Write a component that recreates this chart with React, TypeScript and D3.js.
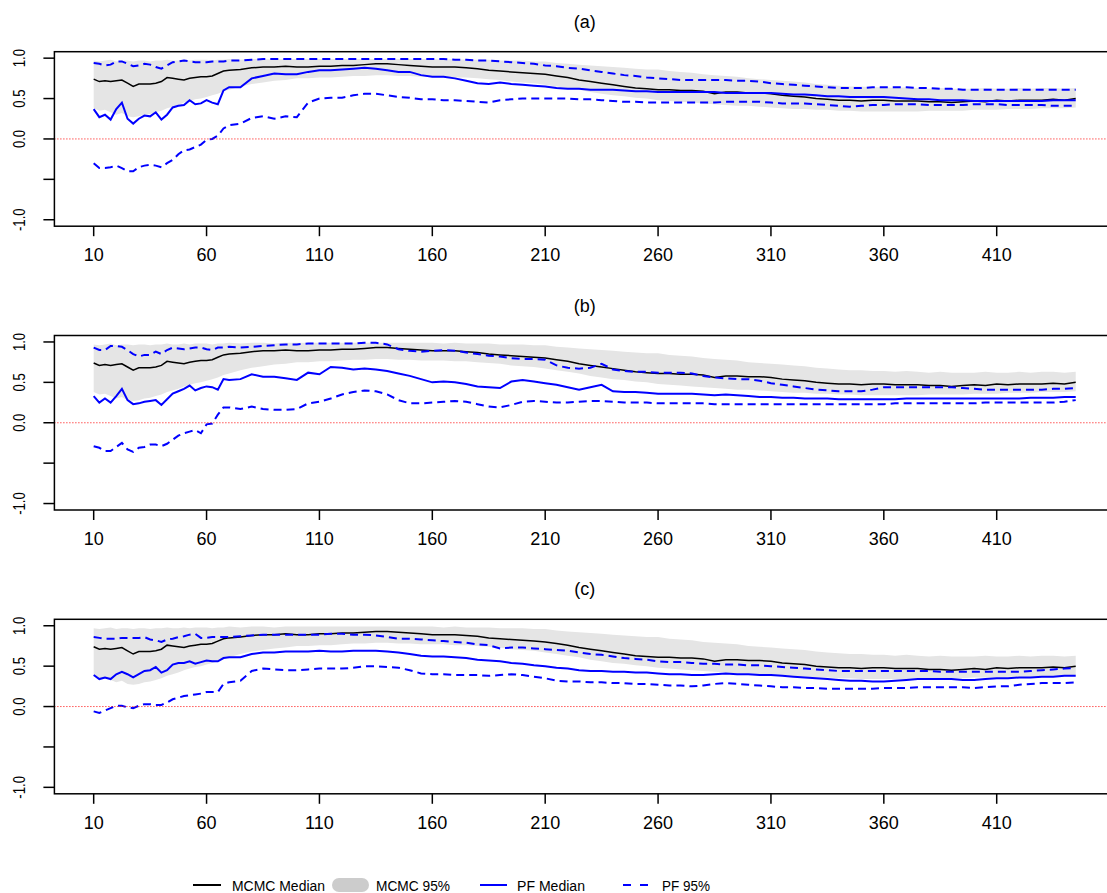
import React, { useEffect, useRef } from "react";
import * as d3 from "d3";

// time points (denser at the start where the PF curves jump around)
const T = [
  10, 12.5, 15, 17.5, 20, 22.5, 25, 27.5, 30, 32.5,
  35, 37.5, 40, 42.5, 45, 47.5, 50, 52.5, 55, 57.5,
  60, 62.5, 65, 67.5, 70,
  75, 80, 85, 90, 95, 100, 105, 110, 115, 120,
  125, 130, 135, 140, 145, 150, 155, 160, 165, 170,
  175, 180, 185, 190, 195, 200, 205, 210, 215, 220,
  225, 230, 235, 240, 245, 250, 255, 260, 265, 270,
  275, 280, 285, 290, 295, 300, 305, 310, 315, 320,
  325, 330, 335, 340, 345, 350, 355, 360, 365, 370,
  375, 380, 385, 390, 395, 400, 405, 410, 415, 420,
  425, 430, 435, 440, 445,
];

const xTicks = [10, 60, 110, 160, 210, 260, 310, 360, 410];
const yTicks = [-1, -0.5, 0, 0.5, 1];
const yTickLabels = ["-1.0", "", "0.0", "0.5", "1.0"];
const panelTitles = ["(a)", "(b)", "(c)"];
const legendLabels = ["MCMC Median", "MCMC 95%", "PF Median", "PF 95%"];

// MCMC (same in every panel)
const mcmcMedian = [
  0.74, 0.71, 0.72, 0.71, 0.72, 0.73, 0.69, 0.65, 0.68, 0.68,
  0.68, 0.69, 0.71, 0.76, 0.75, 0.74, 0.73, 0.75, 0.76, 0.77,
  0.77, 0.78, 0.81, 0.84, 0.85,
  0.86, 0.88, 0.89, 0.89, 0.90, 0.89, 0.89, 0.90, 0.90, 0.91,
  0.91, 0.92, 0.93, 0.93, 0.92, 0.91, 0.90, 0.89, 0.89, 0.89,
  0.88, 0.87, 0.85, 0.84, 0.83, 0.82, 0.81, 0.80, 0.78, 0.76,
  0.73, 0.71, 0.69, 0.67, 0.65, 0.63, 0.62, 0.61, 0.61, 0.60,
  0.60, 0.59, 0.56, 0.58, 0.58, 0.57, 0.57, 0.56, 0.54, 0.53,
  0.52, 0.50, 0.49, 0.48, 0.48, 0.47, 0.48, 0.48, 0.47, 0.47,
  0.47, 0.46, 0.46, 0.45, 0.46, 0.47, 0.46, 0.48, 0.47, 0.48,
  0.48, 0.48, 0.49, 0.48, 0.50,
];
const mcmcUpper = [
  0.97, 0.96, 0.97, 0.98, 0.96, 0.97, 0.97, 0.96, 0.97, 0.97,
  0.96, 0.97, 0.97, 0.98, 0.97, 0.97, 0.98, 0.97, 0.98, 0.98,
  0.98, 0.97, 0.98, 0.98, 0.99,
  0.98, 0.99, 0.99, 0.98, 0.99, 0.99, 0.99, 0.99, 0.99, 0.99,
  0.99, 0.99, 0.99, 0.99, 0.99, 0.99, 0.99, 0.99, 0.98, 0.99,
  0.98, 0.98, 0.98, 0.97, 0.97, 0.97, 0.96, 0.96, 0.94, 0.93,
  0.92, 0.91, 0.90, 0.89, 0.88, 0.87, 0.86, 0.86, 0.84, 0.83,
  0.82, 0.80, 0.79, 0.78, 0.77, 0.75, 0.74, 0.73, 0.72, 0.71,
  0.70, 0.68, 0.67, 0.66, 0.65, 0.65, 0.64, 0.64, 0.63, 0.64,
  0.63, 0.62, 0.63, 0.62, 0.62, 0.62, 0.63, 0.62, 0.62, 0.63,
  0.62, 0.63, 0.63, 0.62, 0.63,
];
const mcmcLower = [
  0.38, 0.35, 0.36, 0.33, 0.30, 0.32, 0.28, 0.27, 0.28, 0.30,
  0.31, 0.33, 0.35, 0.38, 0.40, 0.42, 0.45, 0.47, 0.49, 0.50,
  0.52, 0.54, 0.56, 0.59, 0.61,
  0.65, 0.68, 0.70, 0.72, 0.73, 0.75, 0.75, 0.76, 0.76, 0.77,
  0.78, 0.78, 0.79, 0.79, 0.78, 0.78, 0.77, 0.77, 0.77, 0.76,
  0.76, 0.75, 0.74, 0.73, 0.71, 0.70, 0.69, 0.67, 0.65, 0.63,
  0.61, 0.58, 0.56, 0.54, 0.53, 0.51, 0.50, 0.48, 0.47, 0.46,
  0.45, 0.44, 0.43, 0.42, 0.41, 0.41, 0.40, 0.39, 0.38, 0.37,
  0.37, 0.36, 0.36, 0.35, 0.35, 0.34, 0.34, 0.34, 0.34, 0.34,
  0.34, 0.35, 0.35, 0.35, 0.35, 0.36, 0.36, 0.36, 0.37, 0.37,
  0.37, 0.38, 0.38, 0.38, 0.39,
];

// PF, panel (a)
const pfMedianA = [
  0.37, 0.27, 0.30, 0.24, 0.37, 0.45, 0.25, 0.19, 0.25, 0.29,
  0.28, 0.33, 0.24, 0.30, 0.39, 0.41, 0.42, 0.48, 0.43, 0.44,
  0.48, 0.45, 0.43, 0.60, 0.64,
  0.64, 0.75, 0.78, 0.81, 0.80, 0.80, 0.83, 0.85, 0.85, 0.86,
  0.87, 0.88, 0.87, 0.85, 0.83, 0.83, 0.79, 0.77, 0.77, 0.75,
  0.72, 0.69, 0.68, 0.70, 0.68, 0.67, 0.66, 0.65, 0.63, 0.62,
  0.62, 0.61, 0.61, 0.61, 0.60, 0.59, 0.59, 0.58, 0.58, 0.58,
  0.58, 0.58, 0.58, 0.57, 0.57, 0.57, 0.57, 0.57, 0.56, 0.55,
  0.55, 0.54, 0.53, 0.53, 0.52, 0.52, 0.52, 0.52, 0.51, 0.50,
  0.49, 0.49, 0.48, 0.48, 0.48, 0.47, 0.47, 0.47, 0.47, 0.47,
  0.47, 0.47, 0.48, 0.48, 0.48,
];
const pfLowerA = [
  -0.30, -0.36, -0.36, -0.35, -0.33, -0.36, -0.40, -0.40, -0.35, -0.33,
  -0.32, -0.33, -0.35, -0.30, -0.26, -0.19, -0.14, -0.13, -0.10, -0.07,
  -0.01, 0.00, 0.04, 0.13, 0.17,
  0.19, 0.26, 0.28, 0.25, 0.28, 0.27, 0.45, 0.50, 0.51, 0.51,
  0.54, 0.56, 0.56, 0.54, 0.52, 0.51, 0.49, 0.49, 0.48, 0.48,
  0.47, 0.46, 0.45, 0.48, 0.49, 0.50, 0.50, 0.50, 0.50, 0.50,
  0.49, 0.49, 0.48, 0.47, 0.46, 0.46, 0.45, 0.45, 0.45, 0.45,
  0.45, 0.45, 0.45, 0.46, 0.46, 0.46, 0.46, 0.45, 0.44, 0.44,
  0.44, 0.43, 0.42, 0.41, 0.40, 0.41, 0.42, 0.42, 0.43, 0.43,
  0.43, 0.42, 0.42, 0.42, 0.42, 0.43, 0.43, 0.43, 0.42, 0.42,
  0.42, 0.42, 0.41, 0.41, 0.41,
];
const pfUpperA = [
  0.94, 0.93, 0.91, 0.92, 0.96, 0.96, 0.93, 0.90, 0.91, 0.93,
  0.92, 0.89, 0.87, 0.91, 0.95, 0.96, 0.97, 0.96, 0.95, 0.95,
  0.95, 0.96, 0.96, 0.96, 0.97,
  0.97, 0.98, 0.99, 0.99, 0.99, 0.99, 0.99, 0.99, 0.99, 0.99,
  0.99, 0.99, 0.99, 0.99, 0.99, 0.99, 0.99, 0.99, 0.99, 0.98,
  0.98, 0.97, 0.97, 0.96, 0.95, 0.94, 0.93, 0.91, 0.90, 0.88,
  0.87, 0.85, 0.83, 0.81, 0.79, 0.78, 0.76, 0.75, 0.74, 0.73,
  0.73, 0.73, 0.73, 0.73, 0.72, 0.72, 0.71, 0.69, 0.68, 0.67,
  0.66, 0.65, 0.64, 0.63, 0.63, 0.63, 0.64, 0.64, 0.64, 0.64,
  0.63, 0.63, 0.62, 0.62, 0.61, 0.61, 0.61, 0.61, 0.61, 0.61,
  0.61, 0.61, 0.61, 0.61, 0.61,
];

// PF, panel (b)
const pfMedianB = [
  0.33, 0.25, 0.30, 0.25, 0.33, 0.42, 0.28, 0.23, 0.24, 0.26,
  0.27, 0.28, 0.22, 0.29, 0.36, 0.39, 0.42, 0.46, 0.40, 0.43,
  0.45, 0.44, 0.41, 0.54, 0.53,
  0.54, 0.60, 0.57, 0.57, 0.55, 0.53, 0.62, 0.60, 0.69, 0.68,
  0.66, 0.67, 0.66, 0.64, 0.61, 0.58, 0.54, 0.50, 0.51, 0.50,
  0.48, 0.45, 0.44, 0.43, 0.51, 0.53, 0.51, 0.49, 0.47, 0.44,
  0.41, 0.44, 0.47, 0.39, 0.38, 0.38, 0.37, 0.36, 0.36, 0.36,
  0.36, 0.35, 0.34, 0.35, 0.34, 0.33, 0.32, 0.32, 0.31, 0.31,
  0.30, 0.30, 0.30, 0.29, 0.29, 0.29, 0.29, 0.29, 0.29, 0.30,
  0.30, 0.30, 0.30, 0.30, 0.30, 0.30, 0.30, 0.30, 0.30, 0.30,
  0.31, 0.31, 0.31, 0.32, 0.32,
];
const pfLowerB = [
  -0.29, -0.31, -0.35, -0.35, -0.30, -0.25, -0.33, -0.36, -0.31, -0.30,
  -0.27, -0.27, -0.29, -0.26, -0.21, -0.16, -0.13, -0.11, -0.09, -0.13,
  -0.02, -0.01, 0.10, 0.19, 0.19,
  0.17, 0.20, 0.17, 0.16, 0.16, 0.17, 0.24, 0.26, 0.30, 0.35,
  0.38, 0.40, 0.39, 0.35, 0.28, 0.24, 0.24, 0.25, 0.26, 0.27,
  0.26, 0.23, 0.20, 0.19, 0.22, 0.26, 0.27, 0.26, 0.25, 0.25,
  0.26, 0.27, 0.27, 0.26, 0.25, 0.25, 0.25, 0.24, 0.24, 0.24,
  0.24, 0.24, 0.23, 0.23, 0.23, 0.23, 0.23, 0.23, 0.23, 0.23,
  0.23, 0.23, 0.23, 0.23, 0.23, 0.23, 0.23, 0.23, 0.24, 0.24,
  0.24, 0.24, 0.24, 0.24, 0.24, 0.24, 0.25, 0.25, 0.25, 0.25,
  0.25, 0.25, 0.25, 0.26, 0.28,
];
const pfUpperB = [
  0.93, 0.90, 0.90, 0.95, 0.95, 0.94, 0.90, 0.85, 0.82, 0.84,
  0.84, 0.88, 0.85, 0.90, 0.93, 0.92, 0.91, 0.92, 0.93, 0.93,
  0.91, 0.90, 0.93, 0.93, 0.94,
  0.93, 0.94, 0.95, 0.96, 0.97, 0.97, 0.98, 0.98, 0.98, 0.98,
  0.98, 0.99, 0.99, 0.97, 0.91, 0.89, 0.88, 0.89, 0.90, 0.89,
  0.87, 0.85, 0.83, 0.82, 0.80, 0.79, 0.79, 0.78, 0.71, 0.68,
  0.67, 0.68, 0.73, 0.66, 0.64, 0.63, 0.63, 0.62, 0.62, 0.62,
  0.61, 0.58, 0.56, 0.55, 0.54, 0.54, 0.52, 0.49, 0.47, 0.45,
  0.43, 0.41, 0.40, 0.39, 0.39, 0.39, 0.41, 0.44, 0.44, 0.44,
  0.44, 0.44, 0.44, 0.44, 0.43, 0.42, 0.41, 0.41, 0.41, 0.41,
  0.41, 0.41, 0.42, 0.42, 0.43,
];

// PF, panel (c)
const pfMedianC = [
  0.39, 0.34, 0.36, 0.34, 0.40, 0.43, 0.40, 0.36, 0.40, 0.44,
  0.45, 0.49, 0.42, 0.45, 0.52, 0.54, 0.54, 0.56, 0.53, 0.55,
  0.57, 0.56, 0.56, 0.60, 0.61,
  0.61, 0.65, 0.67, 0.67, 0.68, 0.68, 0.68, 0.69, 0.68, 0.68,
  0.69, 0.69, 0.69, 0.68, 0.67, 0.65, 0.63, 0.62, 0.62, 0.61,
  0.60, 0.58, 0.57, 0.56, 0.54, 0.53, 0.51, 0.50, 0.48, 0.47,
  0.45, 0.44, 0.44, 0.43, 0.43, 0.42, 0.42, 0.41, 0.40, 0.40,
  0.39, 0.39, 0.40, 0.41, 0.40, 0.40, 0.39, 0.39, 0.38, 0.37,
  0.36, 0.35, 0.34, 0.33, 0.32, 0.32, 0.31, 0.31, 0.32, 0.33,
  0.34, 0.34, 0.34, 0.34, 0.33, 0.33, 0.34, 0.35, 0.35, 0.36,
  0.36, 0.37, 0.37, 0.38, 0.38,
];
const pfLowerC = [
  -0.06, -0.08, -0.05, -0.02, 0.01, 0.01, -0.01, -0.02, 0.01, 0.03,
  0.03, 0.02, 0.02, 0.05, 0.09, 0.11, 0.13, 0.14, 0.15, 0.16,
  0.18, 0.18, 0.18, 0.28, 0.30,
  0.32, 0.44, 0.47, 0.46, 0.45, 0.45, 0.46, 0.47, 0.47, 0.47,
  0.48, 0.50, 0.50, 0.49, 0.48, 0.45, 0.41, 0.40, 0.40, 0.39,
  0.39, 0.39, 0.38, 0.39, 0.40, 0.39, 0.37, 0.35, 0.32, 0.31,
  0.31, 0.30, 0.30, 0.29, 0.29, 0.28, 0.28, 0.27, 0.26, 0.26,
  0.25, 0.26, 0.28, 0.29, 0.28, 0.27, 0.26, 0.25, 0.24, 0.24,
  0.23, 0.23, 0.22, 0.22, 0.22, 0.22, 0.22, 0.23, 0.23, 0.23,
  0.24, 0.24, 0.24, 0.24, 0.24, 0.23, 0.24, 0.25, 0.25, 0.27,
  0.28, 0.29, 0.29, 0.29, 0.30,
];
const pfUpperC = [
  0.86, 0.85, 0.84, 0.84, 0.84, 0.85, 0.85, 0.85, 0.85, 0.86,
  0.83, 0.82, 0.80, 0.83, 0.84, 0.86, 0.87, 0.89, 0.90, 0.85,
  0.85, 0.86, 0.86, 0.86, 0.86,
  0.87, 0.88, 0.89, 0.89, 0.89, 0.89, 0.89, 0.89, 0.90, 0.90,
  0.89, 0.89, 0.88, 0.86, 0.84, 0.84, 0.83, 0.82, 0.81, 0.80,
  0.79, 0.77, 0.76, 0.72, 0.73, 0.73, 0.72, 0.71, 0.70, 0.69,
  0.67, 0.65, 0.64, 0.62, 0.60, 0.59, 0.58, 0.56, 0.55, 0.55,
  0.54, 0.53, 0.53, 0.52, 0.52, 0.51, 0.51, 0.50, 0.49, 0.48,
  0.47, 0.46, 0.45, 0.44, 0.44, 0.44, 0.44, 0.44, 0.44, 0.44,
  0.44, 0.44, 0.43, 0.43, 0.43, 0.43, 0.43, 0.43, 0.43, 0.43,
  0.44, 0.45, 0.46, 0.47, 0.48,
];

const pfMedians = [pfMedianA, pfMedianB, pfMedianC];
const pfLowers = [pfLowerA, pfLowerB, pfLowerC];
const pfUppers = [pfUpperA, pfUpperB, pfUpperC];

const FONT = "'Liberation Sans', Arial, Helvetica, sans-serif";

const App = () => {
  const svgRef = useRef(null);

  useEffect(() => {
    document.body.style.margin = "0";
    const width = 1107;
    const height = 893;
    const svg = d3
      .select(svgRef.current)
      .attr("width", width)
      .attr("height", height)
      .style("display", "block")
      .style("background", "white");

    svg.selectAll("*").remove();

    const left = 54.4;
    const right = 1115;
    const panelH = 174.5;
    const tops = [51.7, 335.5, 619.3];

    // R style 4% padding around 10..445 and -1..1
    const x = d3.scaleLinear().domain([-7.4, 462.4]).range([left, right]);

    tops.forEach((top, p) => {
      const y = d3
        .scaleLinear()
        .domain([-1.08, 1.08])
        .range([top + panelH, top]);
      const g = svg.append("g");

      const band = d3
        .area()
        .x((_, i) => x(T[i]))
        .y0((_, i) => y(mcmcLower[i]))
        .y1((_, i) => y(mcmcUpper[i]));
      g.append("path")
        .datum(T)
        .attr("d", band)
        .attr("fill", "#e5e5e5")
        .attr("stroke", "none");

      const line = d3
        .line()
        .x((_, i) => x(T[i]))
        .y((d) => y(d));

      g.append("path")
        .datum(mcmcMedian)
        .attr("d", line)
        .attr("fill", "none")
        .attr("stroke", "black")
        .attr("stroke-width", 1.5);

      g.append("path")
        .datum(pfMedians[p])
        .attr("d", line)
        .attr("fill", "none")
        .attr("stroke", "#0000ff")
        .attr("stroke-width", 2);

      [pfLowers[p], pfUppers[p]].forEach((s) => {
        g.append("path")
          .datum(s)
          .attr("d", line)
          .attr("fill", "none")
          .attr("stroke", "#0000ff")
          .attr("stroke-width", 2)
          .attr("stroke-dasharray", "8,5");
      });

      // zero reference line
      g.append("line")
        .attr("x1", left)
        .attr("x2", right)
        .attr("y1", y(0))
        .attr("y2", y(0))
        .attr("stroke", "#ff0000")
        .attr("stroke-width", 1)
        .attr("stroke-dasharray", "1,2");

      // box
      g.append("rect")
        .attr("x", left)
        .attr("y", top)
        .attr("width", right - left)
        .attr("height", panelH)
        .attr("fill", "none")
        .attr("stroke", "black")
        .attr("stroke-width", 1.5);

      // x axis
      const bottom = top + panelH;
      xTicks.forEach((t) => {
        g.append("line")
          .attr("x1", x(t))
          .attr("x2", x(t))
          .attr("y1", bottom)
          .attr("y2", bottom + 10)
          .attr("stroke", "black")
          .attr("stroke-width", 1.5);
        g.append("text")
          .attr("x", x(t))
          .attr("y", bottom + 35)
          .attr("text-anchor", "middle")
          .attr("font-family", FONT)
          .attr("font-size", 18)
          .text(t);
      });

      // y axis
      yTicks.forEach((v, i) => {
        g.append("line")
          .attr("x1", left - 11)
          .attr("x2", left)
          .attr("y1", y(v))
          .attr("y2", y(v))
          .attr("stroke", "black")
          .attr("stroke-width", 1.5);
        if (yTickLabels[i]) {
          g.append("text")
            .attr("transform", `translate(25,${y(v)}) rotate(-90) scale(0.82,1)`)
            .attr("text-anchor", "middle")
            .attr("font-family", FONT)
            .attr("font-size", 16)
            .text(yTickLabels[i]);
        }
      });

      g.append("text")
        .attr("x", (left + right) / 2)
        .attr("y", top - 24)
        .attr("text-anchor", "middle")
        .attr("font-family", FONT)
        .attr("font-size", 18)
        .text(panelTitles[p]);
    });

    // legend
    const ly = 885;
    const lg = svg.append("g");
    lg.append("line")
      .attr("x1", 193)
      .attr("x2", 221)
      .attr("y1", ly)
      .attr("y2", ly)
      .attr("stroke", "black")
      .attr("stroke-width", 2);
    lg.append("line")
      .attr("x1", 339)
      .attr("x2", 362)
      .attr("y1", ly)
      .attr("y2", ly)
      .attr("stroke", "#cccccc")
      .attr("stroke-width", 14)
      .attr("stroke-linecap", "round");
    lg.append("line")
      .attr("x1", 480)
      .attr("x2", 507)
      .attr("y1", ly)
      .attr("y2", ly)
      .attr("stroke", "#0000ff")
      .attr("stroke-width", 2);
    lg.append("line")
      .attr("x1", 623)
      .attr("x2", 648)
      .attr("y1", ly)
      .attr("y2", ly)
      .attr("stroke", "#0000ff")
      .attr("stroke-width", 2)
      .attr("stroke-dasharray", "8,9");
    const lx = [232, 376, 517, 662];
    const lw = [93, 74, 68, 48];
    legendLabels.forEach((lab, i) => {
      lg.append("text")
        .attr("x", lx[i])
        .attr("y", ly + 5.5)
        .attr("font-family", FONT)
        .attr("font-size", 15.5)
        .attr("textLength", lw[i])
        .attr("lengthAdjust", "spacingAndGlyphs")
        .text(lab);
    });
  }, []);

  return (
    <div>
      <svg ref={svgRef}></svg>
    </div>
  );
};

export default App;
